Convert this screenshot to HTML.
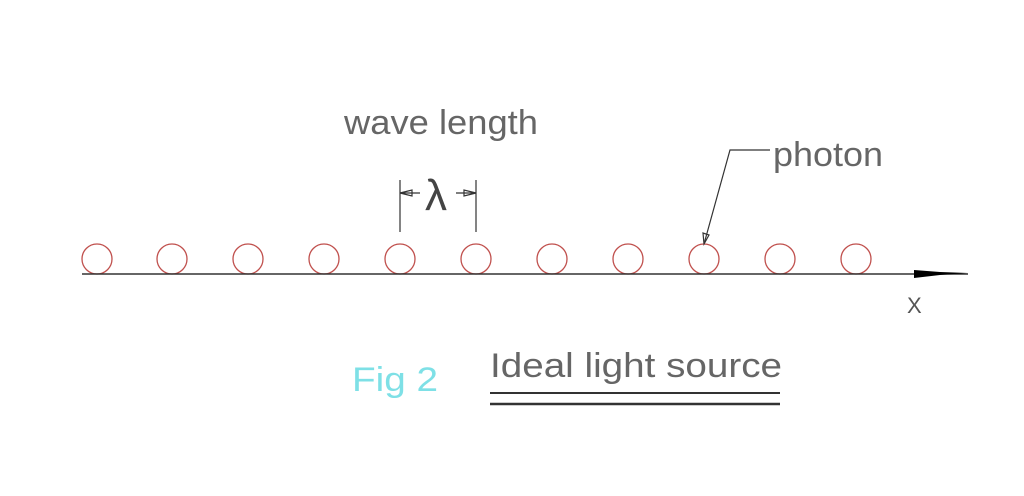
<!DOCTYPE html>
<html><head><style>
html,body{margin:0;padding:0;background:#fff;}
svg{display:block;}
text{font-family:"Liberation Sans",sans-serif;}
</style></head><body>
<svg width="1024" height="496" viewBox="0 0 1024 496">
<g fill="none" stroke="#c0504d" stroke-width="1.3">
<circle cx="97" cy="259" r="15"/><circle cx="172" cy="259" r="15"/><circle cx="248" cy="259" r="15"/>
<circle cx="324" cy="259" r="15"/><circle cx="400" cy="259" r="15"/><circle cx="476" cy="259" r="15"/>
<circle cx="552" cy="259" r="15"/><circle cx="628" cy="259" r="15"/><circle cx="704" cy="259" r="15"/>
<circle cx="780" cy="259" r="15"/><circle cx="856" cy="259" r="15"/>
</g>
<line x1="82" y1="274" x2="968" y2="274" stroke="#333" stroke-width="1.5"/>
<polygon points="914,270 940,272 968,273 940,275 914,278" fill="#000"/>
<text x="907" y="313" font-size="22" fill="#555">X</text>
<g stroke="#333" stroke-width="1.2" fill="none">
<line x1="400" y1="180" x2="400" y2="232"/>
<line x1="476" y1="180" x2="476" y2="232"/>
<line x1="400" y1="193" x2="420" y2="193"/>
<line x1="456" y1="193" x2="476" y2="193"/>
<polygon points="400,193 412,190 412,196"/>
<polygon points="476,193 464,190 464,196"/>
<polyline points="704,244 730,150 770,150"/>
<polygon points="704,244 703,233 709,235"/>
<line x1="490" y1="393" x2="780" y2="393" stroke-width="2"/>
<line x1="490" y1="404" x2="780" y2="404" stroke-width="2.5"/>
</g>
<text x="425" y="210" font-size="44" fill="#444" font-family="Liberation Serif">λ</text>
<text x="344" y="134" font-size="34" fill="#666" textLength="194" lengthAdjust="spacingAndGlyphs">wave length</text>
<text x="773" y="166" font-size="34" fill="#666" textLength="110" lengthAdjust="spacingAndGlyphs">photon</text>
<text x="352" y="391" font-size="34" fill="#7ee0e6" textLength="86" lengthAdjust="spacingAndGlyphs">Fig 2</text>
<text x="490" y="377" font-size="34" fill="#666" textLength="292" lengthAdjust="spacingAndGlyphs">Ideal light source</text>
</svg>
</body></html>
